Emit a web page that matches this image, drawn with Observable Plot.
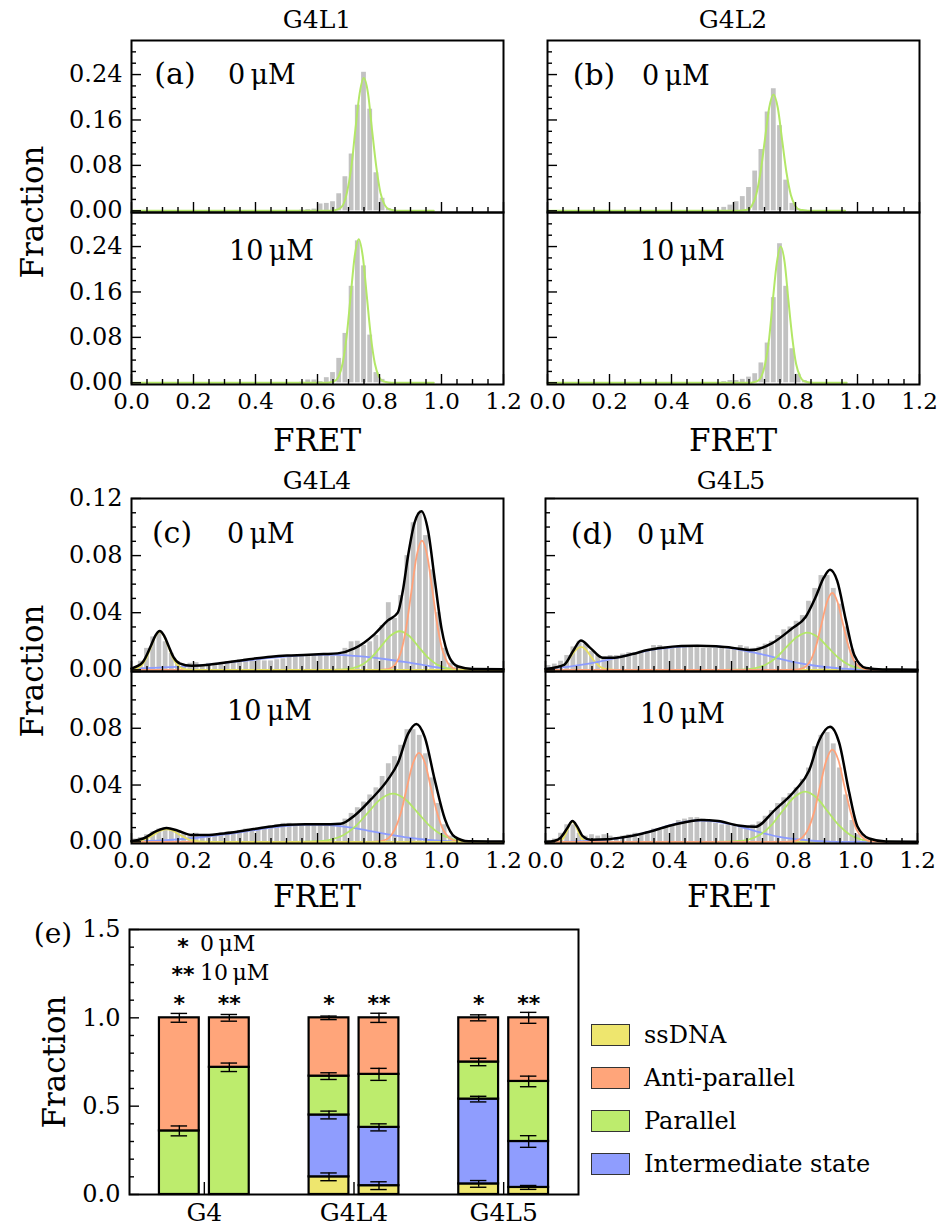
<!DOCTYPE html>
<html><head><meta charset="utf-8">
<script src="https://cdn.jsdelivr.net/npm/d3@7"></script>
<script src="https://cdn.jsdelivr.net/npm/@observablehq/plot@0.6"></script>
<style>
body{margin:0;background:#fff;}
#fig{position:relative;width:945px;height:1226px;font-family:"DejaVu Serif",serif;color:#000;overflow:hidden;}
.lbl{position:absolute;white-space:nowrap;line-height:1;}
</style></head><body><div id="fig"></div>
<script>
// ---------------- DATA ----------------
// histogram bin centres (FRET, bin width 0.02)
const abBins = [0.55,0.57,0.59,0.61,0.63,0.65,0.67,0.69,0.71,0.73,0.75,0.77,0.79,0.81,0.83,0.85];
const a0Bars  = [0.001,0.002,0.003,0.012,0.013,0.016,0.030,0.060,0.100,0.186,0.244,0.179,0.067,0.022,0.004,0.001];
const a10Bars = [0.001,0.005,0.005,0.002,0.009,0.018,0.043,0.087,0.170,0.250,0.206,0.084,0.018,0.006,0.001,0];
const b0Bars  = [0.001,0.006,0.010,0.016,0.025,0.041,0.070,0.108,0.174,0.215,0.150,0.054,0.013,0.003,0.001,0];
const b10Bars = [0,0.002,0.004,0.004,0.006,0.010,0.016,0.035,0.070,0.150,0.245,0.170,0.060,0.015,0.004,0.001];

const cdBins = d3.range(60).map(i => +(0.01 + 0.02 * i).toFixed(2));
const c0Bars = [0.001,0.006,0.015,0.023,0.0265,0.0196,0.0115,0.0058,0.0035,0.0046,
  0.005,0.0035,0.0045,0.0045,0.0052,0.0058,0.0062,0.007,0.0077,0.0077,
  0.007,0.0062,0.0062,0.007,0.0077,0.009,0.010,0.0104,0.010,0.0104,
  0.0104,0.010,0.0104,0.0115,0.015,0.0196,0.020,0.017,0.0196,0.024,
  0.031,0.047,0.036,0.052,0.080,0.103,0.110,0.094,0.070,0.040,
  0.015,0.0046,0.002,0.0008,0.0003,0,0,0,0,0];
const c10Bars = [0.002,0.003,0.005,0.007,0.009,0.010,0.009,0.007,0.006,0.0055,
  0.006,0.005,0.005,0.005,0.006,0.007,0.007,0.008,0.009,0.008,
  0.009,0.010,0.011,0.012,0.013,0.013,0.012,0.012,0.012,0.012,
  0.012,0.012,0.012,0.013,0.016,0.020,0.024,0.028,0.033,0.038,
  0.046,0.055,0.060,0.068,0.079,0.079,0.075,0.062,0.045,0.027,
  0.012,0.004,0.001,0,0,0,0,0,0,0];
const d0Bars = [0.003,0.004,0.006,0.010,0.016,0.020,0.018,0.013,0.010,0.009,
  0.010,0.010,0.011,0.012,0.012,0.013,0.014,0.017,0.017,0.016,
  0.016,0.016,0.017,0.017,0.016,0.015,0.015,0.015,0.015,0.014,
  0.015,0.017,0.016,0.015,0.016,0.018,0.020,0.024,0.028,0.030,
  0.034,0.038,0.048,0.057,0.066,0.066,0.057,0.046,0.030,0.014,
  0.004,0.001,0,0,0,0,0,0,0,0];
const d10Bars = [0.001,0.002,0.006,0.012,0.012,0.006,0.004,0.005,0.004,0.005,
  0.004,0.003,0.004,0.005,0.006,0.006,0.007,0.009,0.008,0.010,
  0.012,0.015,0.016,0.017,0.017,0.016,0.015,0.013,0.012,0.012,
  0.011,0.010,0.010,0.012,0.014,0.018,0.022,0.027,0.031,0.034,
  0.038,0.044,0.052,0.067,0.075,0.077,0.069,0.052,0.033,0.015,
  0.005,0.001,0,0,0,0,0,0,0,0];

// fitted curves: [FRET, fraction]
const aTopGreen = [[0,0],[0.64,0],[0.655,0.001],[0.668,0.003],[0.682,0.010],[0.695,0.032],[0.709,0.076],[0.722,0.142],[0.736,0.207],[0.749,0.234],[0.763,0.207],[0.776,0.142],[0.790,0.076],[0.803,0.032],[0.817,0.010],[0.830,0.003],[0.844,0.001],[0.86,0],[0.975,0]];
const aBotGreen = [[0,0],[0.625,0],[0.642,0.001],[0.655,0.003],[0.668,0.011],[0.681,0.034],[0.694,0.082],[0.707,0.153],[0.720,0.223],[0.733,0.253],[0.746,0.223],[0.759,0.153],[0.772,0.082],[0.785,0.034],[0.798,0.011],[0.811,0.003],[0.824,0.001],[0.84,0],[0.975,0]];
const bTopGreen = [[0,0],[0.61,0],[0.631,0.001],[0.645,0.002],[0.659,0.009],[0.673,0.028],[0.687,0.067],[0.701,0.124],[0.715,0.181],[0.729,0.205],[0.743,0.181],[0.757,0.124],[0.771,0.067],[0.785,0.028],[0.799,0.009],[0.813,0.002],[0.827,0.001],[0.845,0],[0.96,0]];
const bBotGreen = [[0,0],[0.65,0],[0.665,0.001],[0.677,0.003],[0.690,0.011],[0.702,0.033],[0.715,0.078],[0.727,0.146],[0.740,0.212],[0.752,0.24],[0.765,0.212],[0.777,0.146],[0.790,0.078],[0.802,0.033],[0.815,0.011],[0.827,0.003],[0.840,0.001],[0.855,0],[0.965,0]];

const cTopYellow = [[0,0.0001],[0.007,0.0003],[0.021,0.0012],[0.035,0.0036],[0.049,0.0086],[0.063,0.0161],[0.077,0.0234],[0.091,0.0265],[0.105,0.0234],[0.119,0.0161],[0.133,0.0086],[0.147,0.0036],[0.161,0.0012],[0.175,0.0003],[0.19,0],[1.2,0]];
const cTopBlue = [[0,0.0008],[0.123,0.0018],[0.2,0.0028],[0.286,0.0045],[0.37,0.0065],[0.448,0.0083],[0.52,0.0096],[0.6,0.0104],[0.665,0.0104],[0.72,0.0097],[0.78,0.0085],[0.827,0.0072],[0.88,0.0055],[0.935,0.0036],[0.98,0.0018],[1.04,0.0005],[1.1,0],[1.2,0]];
const cTopGreen = [[0,0],[0.64,0],[0.685,0.0003],[0.715,0.0012],[0.745,0.0037],[0.775,0.0088],[0.805,0.0164],[0.835,0.0238],[0.865,0.027],[0.895,0.0238],[0.925,0.0164],[0.955,0.0088],[0.985,0.0037],[1.015,0.0012],[1.045,0.0003],[1.09,0],[1.2,0]];
const cTopOrange = [[0,0],[0.80,0],[0.818,0.0002],[0.835,0.001],[0.852,0.004],[0.869,0.0122],[0.886,0.0294],[0.903,0.0549],[0.920,0.0799],[0.937,0.0905],[0.954,0.0799],[0.971,0.0549],[0.988,0.0294],[1.005,0.0122],[1.022,0.004],[1.039,0.001],[1.056,0.0002],[1.075,0],[1.2,0]];
const cTopBlack = [[0,0.001],[0.035,0.005],[0.063,0.017],[0.077,0.024],[0.091,0.0272],[0.105,0.024],[0.119,0.017],[0.135,0.009],[0.155,0.0045],[0.194,0.0028],[0.25,0.0035],[0.286,0.0046],[0.34,0.0062],[0.394,0.0078],[0.45,0.0092],[0.502,0.0100],[0.556,0.0104],[0.62,0.011],[0.665,0.0115],[0.719,0.015],[0.75,0.019],[0.784,0.025],[0.827,0.0346],[0.859,0.040],[0.875,0.055],[0.892,0.0797],[0.913,0.103],[0.935,0.111],[0.957,0.097],[0.978,0.0635],[1.0,0.029],[1.027,0.008],[1.054,0.0023],[1.1,0.0006],[1.2,0.0004]];

const cBotYellow = [[0,0.0001],[0.0155,0.0004],[0.035,0.0012],[0.055,0.0029],[0.074,0.0053],[0.094,0.0078],[0.113,0.0088],[0.133,0.0078],[0.152,0.0053],[0.172,0.0029],[0.191,0.0012],[0.211,0.0004],[0.23,0.0001],[0.26,0],[1.2,0]];
const cBotBlue = [[0,0.0004],[0.1,0.001],[0.194,0.0025],[0.3,0.0052],[0.394,0.0082],[0.45,0.0100],[0.502,0.0113],[0.56,0.012],[0.61,0.012],[0.665,0.0112],[0.719,0.0097],[0.77,0.0076],[0.827,0.0053],[0.88,0.0033],[0.935,0.0018],[0.99,0.0008],[1.04,0.0002],[1.1,0],[1.2,0]];
const cBotGreen = [[0,0],[0.52,0],[0.563,0.0001],[0.603,0.0004],[0.643,0.0015],[0.683,0.0046],[0.723,0.011],[0.763,0.0206],[0.803,0.030],[0.843,0.034],[0.883,0.030],[0.923,0.0206],[0.963,0.011],[1.003,0.0046],[1.043,0.0015],[1.083,0.0004],[1.123,0.0001],[1.16,0],[1.2,0]];
const cBotOrange = [[0,0],[0.77,0],[0.79,0.0001],[0.81,0.0007],[0.83,0.0028],[0.849,0.0085],[0.869,0.0204],[0.888,0.038],[0.908,0.0553],[0.927,0.0627],[0.947,0.0553],[0.966,0.038],[0.986,0.0204],[1.005,0.0085],[1.025,0.0028],[1.044,0.0007],[1.064,0.0001],[1.085,0],[1.2,0]];
const cBotBlack = [[0,0.0005],[0.04,0.0025],[0.08,0.0075],[0.113,0.0097],[0.15,0.0078],[0.194,0.0048],[0.25,0.0048],[0.286,0.0056],[0.35,0.0075],[0.394,0.0090],[0.45,0.0108],[0.502,0.0120],[0.56,0.0124],[0.61,0.0123],[0.675,0.0127],[0.719,0.0184],[0.773,0.030],[0.827,0.0438],[0.859,0.0553],[0.892,0.076],[0.919,0.083],[0.946,0.0737],[0.978,0.0438],[1.011,0.016],[1.043,0.0035],[1.087,0.0004],[1.2,0.0002]];

const dTopYellow = [[0,0],[0.021,0.0002],[0.037,0.0007],[0.052,0.0022],[0.068,0.0052],[0.083,0.0097],[0.099,0.0141],[0.114,0.016],[0.130,0.0141],[0.145,0.0097],[0.161,0.0052],[0.176,0.0022],[0.192,0.0007],[0.207,0.0002],[0.225,0],[1.2,0]];
const dTopBlue = [[0,0.0006],[0.06,0.0018],[0.114,0.0035],[0.17,0.0056],[0.222,0.0080],[0.28,0.011],[0.33,0.0135],[0.39,0.0152],[0.438,0.0162],[0.5,0.0168],[0.55,0.0165],[0.6,0.0152],[0.655,0.0128],[0.71,0.0102],[0.76,0.0074],[0.81,0.005],[0.865,0.003],[0.92,0.0016],[0.97,0.0006],[1.02,0.0001],[1.1,0],[1.2,0]];
const dTopGreen = [[0,0],[0.57,0],[0.61,0.0001],[0.643,0.0003],[0.677,0.0011],[0.71,0.0035],[0.744,0.0084],[0.777,0.0158],[0.811,0.0229],[0.844,0.026],[0.878,0.0229],[0.911,0.0158],[0.945,0.0084],[0.978,0.0035],[1.012,0.0011],[1.045,0.0003],[1.079,0.0001],[1.12,0],[1.2,0]];
const dTopOrange = [[0,0],[0.78,0],[0.806,0.0001],[0.823,0.0006],[0.84,0.0024],[0.857,0.0073],[0.874,0.0175],[0.891,0.0326],[0.908,0.0475],[0.925,0.0538],[0.942,0.0475],[0.959,0.0326],[0.976,0.0175],[0.993,0.0073],[1.01,0.0024],[1.027,0.0006],[1.044,0.0001],[1.065,0],[1.2,0]];
const dTopBlack = [[0,0.0006],[0.06,0.0035],[0.09,0.0135],[0.114,0.0205],[0.146,0.015],[0.184,0.0085],[0.222,0.0085],[0.28,0.011],[0.33,0.0139],[0.38,0.0155],[0.438,0.0166],[0.49,0.0169],[0.55,0.0165],[0.6,0.0155],[0.665,0.0139],[0.73,0.0185],[0.795,0.0289],[0.839,0.037],[0.871,0.0508],[0.898,0.0647],[0.918,0.070],[0.941,0.0623],[0.969,0.0346],[0.996,0.0104],[1.034,0.0012],[1.088,0.0002],[1.2,0.0001]];

const dBotYellow = [[0,0],[0.031,0],[0.039,0.0002],[0.047,0.0006],[0.055,0.0019],[0.063,0.0045],[0.071,0.0085],[0.079,0.0124],[0.087,0.014],[0.095,0.0124],[0.103,0.0085],[0.111,0.0045],[0.119,0.0019],[0.127,0.0006],[0.135,0.0002],[0.143,0],[1.2,0]];
const dBotBlue = [[0,0],[0.1,0.0003],[0.15,0.0008],[0.2,0.0017],[0.25,0.003],[0.3,0.0052],[0.35,0.0082],[0.4,0.0115],[0.45,0.014],[0.5,0.015],[0.55,0.0143],[0.6,0.0122],[0.65,0.0092],[0.7,0.0062],[0.75,0.0037],[0.8,0.002],[0.85,0.0009],[0.9,0.0003],[0.95,0],[1.2,0]];
const dBotGreen = [[0,0],[0.54,0],[0.582,0.0001],[0.618,0.0004],[0.655,0.0016],[0.691,0.0048],[0.728,0.0115],[0.764,0.0215],[0.801,0.0312],[0.837,0.0354],[0.874,0.0312],[0.91,0.0215],[0.947,0.0115],[0.983,0.0048],[1.02,0.0016],[1.056,0.0004],[1.093,0.0001],[1.13,0],[1.2,0]];
const dBotOrange = [[0,0],[0.77,0],[0.789,0.0001],[0.808,0.0007],[0.828,0.0029],[0.847,0.0088],[0.867,0.0211],[0.886,0.0394],[0.906,0.0574],[0.925,0.065],[0.945,0.0574],[0.964,0.0394],[0.984,0.0211],[1.003,0.0088],[1.023,0.0029],[1.042,0.0007],[1.062,0.0001],[1.085,0],[1.2,0]];
const dBotBlack = [[0,0],[0.03,0.0008],[0.049,0.003],[0.07,0.0095],[0.087,0.0146],[0.103,0.0105],[0.12,0.004],[0.146,0.0015],[0.2,0.0018],[0.25,0.0032],[0.3,0.0052],[0.35,0.008],[0.4,0.0113],[0.45,0.0138],[0.5,0.0153],[0.557,0.0146],[0.622,0.0115],[0.676,0.0106],[0.741,0.0227],[0.806,0.0365],[0.85,0.050],[0.882,0.071],[0.918,0.081],[0.947,0.070],[0.979,0.0354],[1.006,0.011],[1.044,0.0023],[1.098,0.0002],[1.2,0]];

// ticks
const xMajor = [0,0.2,0.4,0.6,0.8,1.0,1.2];
const xMinor = [0.05,0.1,0.15,0.25,0.3,0.35,0.45,0.5,0.55,0.65,0.7,0.75,0.85,0.9,0.95,1.05,1.1,1.15];
const yMajorAB = [0,0.08,0.16,0.24];
const yMinorAB = [0.02,0.04,0.06,0.1,0.12,0.14,0.18,0.2,0.22,0.26,0.28];
const yMajorCD = [0,0.04,0.08,0.12];
const yMinorCD = [0.01,0.02,0.03,0.05,0.06,0.07,0.09,0.1,0.11];
const yMajorE = [0,0.5,1.0,1.5];
const yMinorE = [0.1,0.2,0.3,0.4,0.6,0.7,0.8,0.9,1.1,1.2,1.3,1.4];

// panel (e): stacked fractions, bars in order G4-0, G4-10, G4L4-0, G4L4-10, G4L5-0, G4L5-10
const groups = ["G4","G4L4","G4L5"];
const concMarks = ["*","**"];
const states = ["ssDNA","Intermediate state","Parallel","Anti-parallel"];   // bottom → top
const legendOrder = ["ssDNA","Anti-parallel","Parallel","Intermediate state"];
const ssDNA        = [0,    0,    0.10, 0.05, 0.06, 0.04];
const intermediate = [0,    0,    0.35, 0.33, 0.48, 0.26];
const parallel     = [0.36, 0.72, 0.22, 0.30, 0.21, 0.34];
const antiParallel = [0.64, 0.28, 0.33, 0.32, 0.25, 0.36];
const errSs    = [0,     0,     0.022, 0.022, 0.019, 0.011];
const errInter = [0,     0,     0.022, 0.020, 0.016, 0.033];
const errPar   = [0.028, 0.024, 0.019, 0.034, 0.021, 0.030];
const errAnti  = [0.025, 0.019, 0.010, 0.026, 0.017, 0.031];

// ---------------- STYLE ----------------
const GRAY = "#c2c2c2";
const FILL = {"ssDNA":"#EEE66E","Anti-parallel":"#FFA57A","Parallel":"#BDEC6D","Intermediate state":"#8F9DFE"};
const LN = {y:"#E8E060", b:"#8C9BFF", g:"#B3E767", o:"#FFA27A", k:"#000000"};
const FONT = "DejaVu Serif";
const fig = document.getElementById("fig");

function place(svg, left, top) {
  svg.style.position = "absolute";
  svg.style.left = left + "px";
  svg.style.top = top + "px";
  fig.appendChild(svg);
}
function label(text, x, y, size, anchor = "c", extra = {}) {
  const d = document.createElement("div");
  d.className = "lbl";
  d.textContent = text;
  d.style.left = x + "px";
  d.style.top = y + "px";
  d.style.fontSize = size + "px";
  d.style.transform = anchor === "c" ? "translate(-50%,-50%)" : anchor === "l" ? "translate(0,-50%)" : "translate(-50%,-50%) rotate(-90deg)";
  Object.assign(d.style, extra);
  fig.appendChild(d);
}

function hist({frame: [L, T, R, B], bins, bars, curves, ydom, yMajor, yMinor, yLabels, showX}) {
  const mL = 100, mR = 12, mT = 12, mB = 40;
  const W = R - L, H = B - T;
  const rects = bins.map((c, i) => ({x1: c - 0.01, x2: c + 0.01, v: bars[i]})).filter(d => d.v > 0);
  const marks = [
    Plot.rectY(rects, {x1: "x1", x2: "x2", y: "v", fill: GRAY, insetLeft: 0.7, insetRight: 0.7}),
    ...curves.map(([pts, col, sw]) => Plot.line(pts, {x: d => d[0], y: d => d[1], stroke: col, strokeWidth: sw, curve: "monotone-x"})),
    Plot.tickX(xMinor, {x: d => d, insetTop: H - 5, stroke: "black", strokeWidth: 1.4}),
    Plot.tickX(xMajor, {x: d => d, insetTop: H - 10, stroke: "black", strokeWidth: 1.4}),
    Plot.tickY(yMinor, {y: d => d, insetRight: W - 5, stroke: "black", strokeWidth: 1.4}),
    Plot.tickY(yMajor, {y: d => d, insetRight: W - 10, stroke: "black", strokeWidth: 1.4}),
    Plot.frame({stroke: "black", strokeWidth: 2})
  ];
  if (yLabels) marks.push(Plot.axisY({ticks: yLabels, tickFormat: d3.format(".2f"), tickSize: 0, tickPadding: 9, label: null, fontSize: 24}));
  if (showX) marks.push(Plot.axisX({ticks: xMajor, tickFormat: d3.format(".1f"), tickSize: 0, tickPadding: 8, label: null, fontSize: 23}));
  const svg = Plot.plot({
    width: W + mL + mR, height: H + mT + mB,
    marginLeft: mL, marginRight: mR, marginTop: mT, marginBottom: mB,
    x: {domain: [0, 1.2], axis: null},
    y: {domain: ydom, axis: null},
    style: {fontFamily: FONT, fontSize: "23px", background: "transparent", overflow: "visible", color: "black"},
    marks
  });
  place(svg, L - mL, T - mT);
}

// ---------------- PANELS (a)-(d) ----------------
const AB = [-0.003, 0.30], CD = [-0.0012, 0.12];
hist({frame: [131, 40, 503, 212], bins: abBins, bars: a0Bars, curves: [[aTopGreen, LN.g, 2]], ydom: AB, yMajor: yMajorAB, yMinor: yMinorAB, yLabels: yMajorAB});
hist({frame: [131, 212, 503, 384], bins: abBins, bars: a10Bars, curves: [[aBotGreen, LN.g, 2]], ydom: AB, yMajor: yMajorAB, yMinor: yMinorAB, yLabels: yMajorAB, showX: true});
hist({frame: [547, 40, 919, 212], bins: abBins, bars: b0Bars, curves: [[bTopGreen, LN.g, 2]], ydom: AB, yMajor: yMajorAB, yMinor: yMinorAB});
hist({frame: [547, 212, 919, 384], bins: abBins, bars: b10Bars, curves: [[bBotGreen, LN.g, 2]], ydom: AB, yMajor: yMajorAB, yMinor: yMinorAB, showX: true});

hist({frame: [131, 498, 503, 671], bins: cdBins, bars: c0Bars,
  curves: [[cTopBlue, LN.b, 1.8], [cTopGreen, LN.g, 1.8], [cTopOrange, LN.o, 1.8], [cTopYellow, LN.y, 1.8], [cTopBlack, LN.k, 2.5]],
  ydom: CD, yMajor: yMajorCD, yMinor: yMinorCD, yLabels: yMajorCD});
hist({frame: [131, 671, 503, 843], bins: cdBins, bars: c10Bars,
  curves: [[cBotBlue, LN.b, 1.8], [cBotGreen, LN.g, 1.8], [cBotOrange, LN.o, 1.8], [cBotYellow, LN.y, 1.8], [cBotBlack, LN.k, 2.5]],
  ydom: CD, yMajor: yMajorCD, yMinor: yMinorCD, yLabels: [0, 0.04, 0.08], showX: true});
hist({frame: [545, 498, 917, 671], bins: cdBins, bars: d0Bars,
  curves: [[dTopYellow, LN.y, 1.8], [dTopBlue, LN.b, 1.8], [dTopGreen, LN.g, 1.8], [dTopOrange, LN.o, 1.8], [dTopBlack, LN.k, 2.5]],
  ydom: CD, yMajor: yMajorCD, yMinor: yMinorCD});
hist({frame: [545, 671, 917, 843], bins: cdBins, bars: d10Bars,
  curves: [[dBotYellow, LN.y, 1.8], [dBotBlue, LN.b, 1.8], [dBotGreen, LN.g, 1.8], [dBotOrange, LN.o, 1.8], [dBotBlack, LN.k, 2.5]],
  ydom: CD, yMajor: yMajorCD, yMinor: yMinorCD, showX: true});

// texts for (a)-(d)
label("G4L1", 317, 19, 25);
label("G4L2", 733, 19, 25);
label("G4L4", 317, 480, 25);
label("G4L5", 731, 480, 25);
label("(a)", 175, 74, 30);  label("0\u2009μM", 228, 74, 27, "l");
label("10\u2009μM", 229, 250, 27, "l");
label("(b)", 594, 75, 30);  label("0\u2009μM", 642, 75, 27, "l");
label("10\u2009μM", 640, 250, 27, "l");
label("(c)", 172, 533, 30); label("0\u2009μM", 227, 533, 27, "l");
label("10\u2009μM", 227, 710, 27, "l");
label("(d)", 592, 534, 30); label("0\u2009μM", 637, 534, 27, "l");
label("10\u2009μM", 640, 713, 27, "l");
label("FRET", 317, 440, 31);
label("FRET", 733, 440, 31);
label("FRET", 317, 896, 31);
label("FRET", 731, 896, 31);
label("Fraction", 32, 212, 31, "r");
label("Fraction", 32, 671, 31, "r");
label("Fraction", 54, 1062, 31, "r");

// ---------------- PANEL (e) ----------------
(function () {
  const L = 129, T = 929, R = 578, B = 1194;
  const mL = 90, mR = 12, mT = 12, mB = 44;
  const W = R - L, H = B - T;
  const halfGap = 0.167, halfW = 0.133, capW = 0.055;
  const stacks = [ssDNA, intermediate, parallel, antiParallel];
  const errs = [errSs, errInter, errPar, errAnti];
  const segs = [], ebars = [], stars = [];
  for (let i = 0; i < 6; i++) {
    const g = Math.floor(i / 2), c = i % 2;
    const xc = g + (c ? halfGap : -halfGap);
    let y0 = 0;
    stacks.forEach((arr, s) => {
      const v = arr[i];
      if (v > 0) {
        segs.push({x1: xc - halfW, x2: xc + halfW, y1: y0, y2: y0 + v, state: states[s]});
        ebars.push({x: xc, y: y0 + v, e: errs[s][i]});
      }
      y0 += v;
    });
    stars.push({x: xc, y: y0 + 0.1, t: concMarks[c]});
  }
  const svg = Plot.plot({
    width: W + mL + mR, height: H + mT + mB,
    marginLeft: mL, marginRight: mR, marginTop: mT, marginBottom: mB,
    x: {domain: [-0.5, 2.5], axis: null},
    y: {domain: [0, 1.5], axis: null},
    color: {domain: Object.keys(FILL), range: Object.values(FILL)},
    style: {fontFamily: FONT, fontSize: "24px", background: "transparent", overflow: "visible", color: "black"},
    marks: [
      Plot.rect(segs, {x1: "x1", x2: "x2", y1: "y1", y2: "y2", fill: "state", stroke: "black", strokeWidth: 2.2}),
      Plot.ruleX(ebars, {x: "x", y1: d => d.y - d.e, y2: d => d.y + d.e, stroke: "black", strokeWidth: 1.4}),
      Plot.ruleY(ebars, {y: d => d.y - d.e, x1: d => d.x - capW, x2: d => d.x + capW, stroke: "black", strokeWidth: 1.4}),
      Plot.ruleY(ebars, {y: d => d.y + d.e, x1: d => d.x - capW, x2: d => d.x + capW, stroke: "black", strokeWidth: 1.4}),
      Plot.text(stars, {x: "x", y: "y", text: "t", fontFamily: "DejaVu Sans", fontWeight: "bold", fontSize: 22, dy: 4}),
      Plot.tickX([0, 1, 2], {x: d => d, insetTop: H - 12, stroke: "black", strokeWidth: 1.4}),
      Plot.tickY(yMinorE, {y: d => d, insetRight: W - 5, stroke: "black", strokeWidth: 1.4}),
      Plot.tickY(yMajorE, {y: d => d, insetRight: W - 10, stroke: "black", strokeWidth: 1.4}),
      Plot.frame({stroke: "black", strokeWidth: 2}),
      Plot.axisY({ticks: yMajorE, tickFormat: d3.format(".1f"), tickSize: 0, tickPadding: 9, label: null, fontSize: 24}),
      Plot.axisX({ticks: [0, 1, 2], tickFormat: i => groups[i], tickSize: 0, tickPadding: 9, label: null, fontSize: 25})
    ]
  });
  place(svg, L - mL, T - mT);
})();

label("(e)", 53, 934, 28);
label("*", 183, 947, 22, "c", {fontFamily: "DejaVu Sans", fontWeight: "bold"});
label("0\u2009μM", 200, 944, 22, "l");
label("**", 183, 975, 22, "c", {fontFamily: "DejaVu Sans", fontWeight: "bold"});
label("10\u2009μM", 200, 973, 22, "l");

// legend
const legY = [1035, 1078, 1121, 1164];
legendOrder.forEach((name, i) => {
  const sw = document.createElement("div");
  Object.assign(sw.style, {position: "absolute", left: "591px", top: (legY[i] - 11) + "px", width: "39px", height: "22px",
    background: FILL[name], border: "1.5px solid #333", boxSizing: "border-box"});
  fig.appendChild(sw);
  label(name, 644, legY[i], 24, "l");
});
</script></body></html>
